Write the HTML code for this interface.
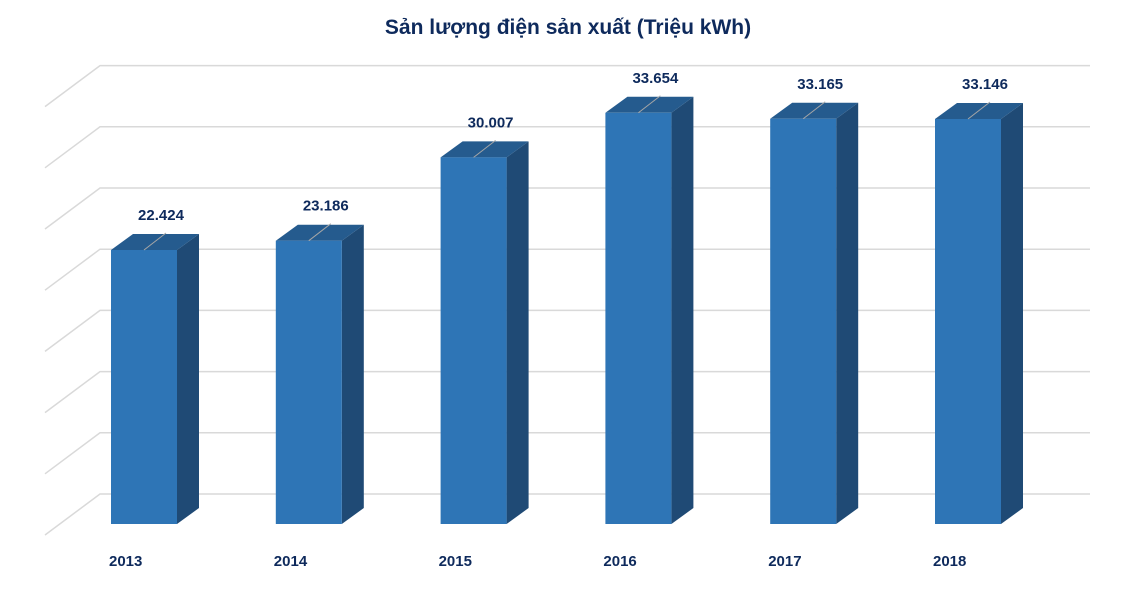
<!DOCTYPE html>
<html><head><meta charset="utf-8"><style>
body{margin:0;background:#fff;}
svg text{font-family:"Liberation Sans",sans-serif;font-weight:bold;fill:#0e2a5c;}
</style></head><body>
<svg id="chart" width="1137" height="587" viewBox="0 0 1137 587" xmlns="http://www.w3.org/2000/svg">
<text x="568" y="34" text-anchor="middle" font-size="21">Sản lượng điện sản xuất (Triệu kWh)</text>
<g id="grid"></g>
<g id="bars"></g>
</svg>
<script>
const categories=["2013","2014","2015","2016","2017","2018"];
const values=[22424,23186,30007,33654,33165,33146];
const labels=["22.424","23.186","30.007","33.654","33.165","33.146"];
const gridTicks=[0,5000,10000,15000,20000,25000,30000,35000];
const NS="http://www.w3.org/2000/svg";
const base=524, k=274/22424, dx=22, dy=-16;
function y(v){return base-v*k;}
function xb(i){return 111+i*164.8;}
const bw=66;
function mk(t,a,p){const e=document.createElementNS(NS,t);for(const n in a)e.setAttribute(n,a[n]);p.appendChild(e);return e;}
const g=document.getElementById('grid');
gridTicks.forEach((t,i)=>{
  const gy=494-i*61.2;
  const l=mk('path',{d:`M45 ${gy+41} L100 ${gy} L1090 ${gy}`,fill:'none',stroke:'#d9d9d9','stroke-width':1.5},g);
  
  
});
const b=document.getElementById('bars');
values.forEach((v,i)=>{
  const x=xb(i),top=y(v);
  const grp=mk('g',{},b);
  
  
  mk('polygon',{points:`${x+bw},${top} ${x+bw+dx},${top+dy} ${x+bw+dx},${base+dy} ${x+bw},${base}`,fill:'#1f4a75'},grp);
  mk('polygon',{points:`${x},${top} ${x+dx},${top+dy} ${x+bw+dx},${top+dy} ${x+bw},${top}`,fill:'#255b8e'},grp);
  mk('rect',{x:x,y:top,width:bw,height:base-top,fill:'#2e75b6'},grp);
  mk('line',{x1:x+33,y1:top,x2:x+55,y2:top-17,stroke:'#a6a6a6','stroke-width':1},grp);
  const tl=mk('text',{x:x+50,y:top-30,'text-anchor':'middle','font-size':15},grp);
  tl.textContent=labels[i];
  
  
  const cl=mk('text',{x:x-2,y:566,'font-size':15},grp);
  cl.textContent=categories[i];
  
  
});
</script>
</body></html>
